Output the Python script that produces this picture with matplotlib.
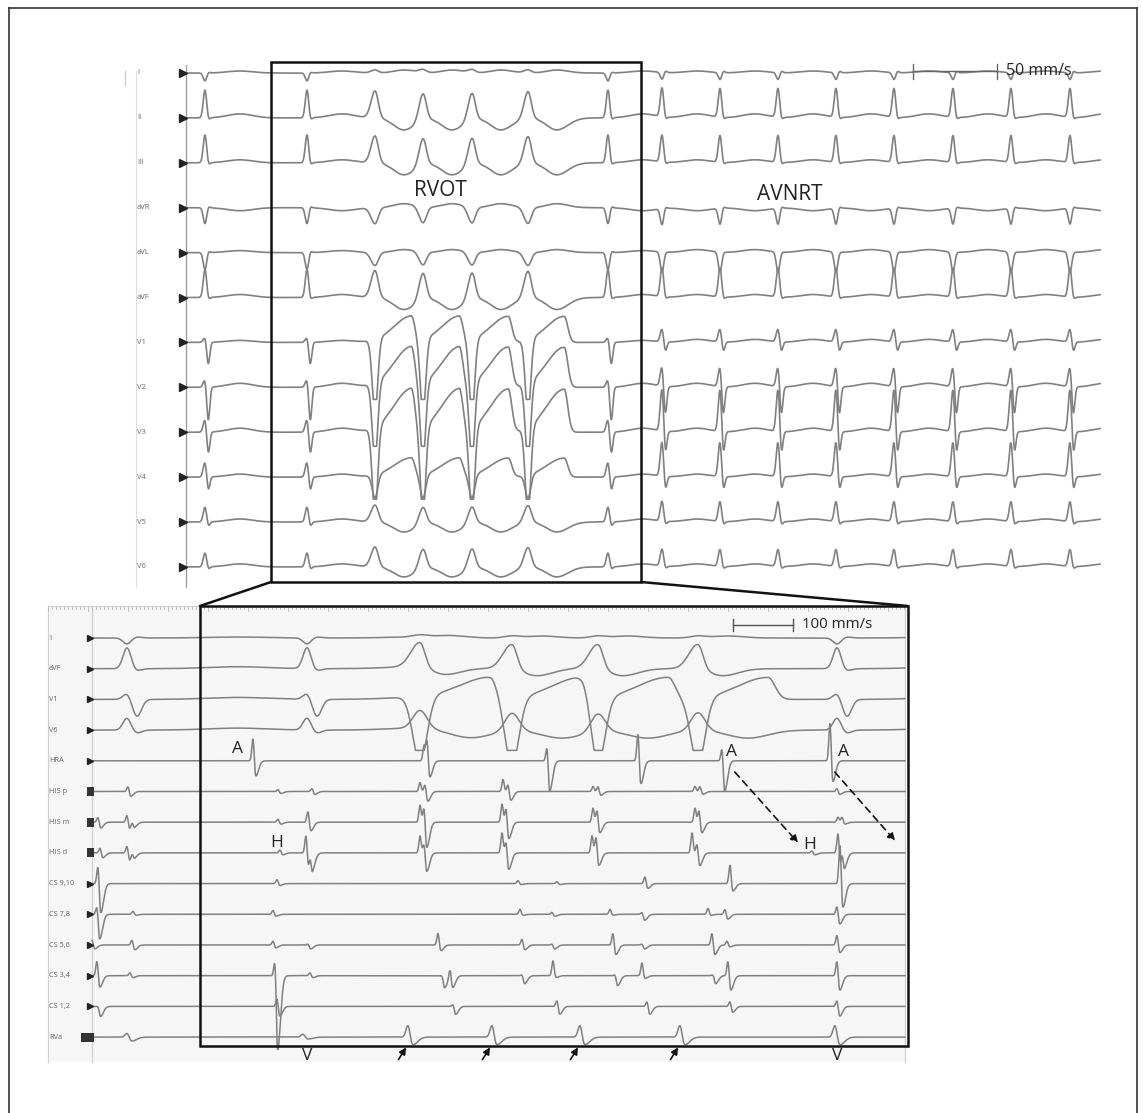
import numpy as np
import matplotlib.pyplot as plt
from matplotlib.patches import Rectangle, ConnectionPatch, FancyArrowPatch
from matplotlib.lines import Line2D

plt.rcParams['font.family'] = ['Open Sans', 'DejaVu Sans']

W, H = 1143, 1113

# ---------------- top panel: 12-lead ECG at 50 mm/s (times in ms) ----------------
top_leads = ['I', 'II', 'III', 'aVR', 'aVL', 'aVF', 'V1', 'V2', 'V3', 'V4', 'V5', 'V6']
top_beat_ms = [76, 484, 756, 948, 1144, 1368, 1688, 1904, 2136, 2368, 2600, 2832, 3068, 3300, 3536]
top_beat_kind = ['N', 'N', 'W', 'W', 'W', 'W', 'N', 'S', 'S', 'S', 'S', 'S', 'S', 'S', 'S']

# narrow beats: (r, s, t) ; N = sinus, S = AVNRT
top_narrow_N = {'I': (-8, 1, 2), 'II': (28, -3, 4), 'III': (28, -3, 3), 'aVR': (-16, 2, -3),
                'aVL': (-17, 2, 2), 'aVF': (28, -3, 3), 'V1': (5, -22, 2), 'V2': (8, -34, 4),
                'V3': (13, -22, 4), 'V4': (15, -14, 3), 'V5': (15, -5, 3), 'V6': (14, -3, 3)}
top_narrow_S = {'I': (-7, 2, 2), 'II': (29, -3, 4), 'III': (27, -3, 3), 'aVR': (-16, 2, -3),
                'aVL': (-20, 0, 3), 'aVF': (29, -3, 3), 'V1': (13, -10, 3), 'V2': (20, -29, 4),
                'V3': (43, -24, 4), 'V4': (35, -15, 3), 'V5': (20, -4, 3), 'V6': (17, -3, 3)}
# wide RVOT beats: (main deflection, late wave)
top_wide = {'I': (3, 3), 'II': (27, -12), 'III': (27, -12), 'aVR': (-16, 4), 'aVL': (-13, 3),
            'aVF': (27, -12), 'V1': (-57, 26), 'V2': (-59, 40), 'V3': (-67, 43), 'V4': (-23, 19),
            'V5': (17, -10), 'V6': (20, -10)}
top_floor = {'V1': -57, 'V2': -59, 'V3': -67}

# ---------------- bottom panel: EP recording at 100 mm/s (times in ms) ----------------
bot_surface = ['I', 'aVF', 'V1', 'V6']
bot_beat_ms = [70, 430, 656, 840, 1012, 1212, 1490]
bot_beat_kind = ['N', 'N', 'W', 'W', 'W', 'W', 'N']
bot_narrow = {'I': (-6, 1, 1), 'aVF': (21, -2, 2), 'V1': (6, -17, 2), 'V6': (12, -3, 2)}
bot_wide = {'I': (2, 2), 'aVF': (25, -7), 'V1': (-51, 22), 'V6': (18, -8)}
bot_floor = {'V1': -51}

ic_channels = ['HRA', 'HIS p', 'HIS m', 'HIS d', 'CS 9,10', 'CS 7,8', 'CS 5,6', 'CS 3,4', 'CS 1,2', 'RVa']
# (time ms, upward amplitude, downward amplitude)
ic_events = {
    'HRA': [(322, 23, 16), (664, 15, 0), (670, 21, 17), (910, 14, 31), (1092, 28, 24),
            (1260, 13, 31), (1476, 39, 22)],
    'HIS p': [(72, 5, 5), (372, 2, 2), (440, 3, 3), (656, 9, 0), (666, 7, 10), (822, 12, 0),
              (832, 7, 9), (1002, 5, 0), (1012, 5, 4), (1206, 5, 0), (1216, 5, 3), (1490, 3, 3)],
    'HIS m': [(12, 5, 6), (70, 7, 7), (80, 4, 4), (372, 3, 2), (432, 11, 9), (656, 17, 0),
              (664, 15, 26), (820, 18, 0), (828, 14, 17), (1002, 14, 0), (1010, 12, 11),
              (1206, 14, 0), (1214, 12, 11), (1492, 5, 0), (1500, 5, 2)],
    'HIS d': [(16, 5, 5), (70, 7, 8), (80, 4, 4), (376, 3, 2), (428, 18, 17), (436, 9, 13),
              (656, 17, 0), (664, 9, 19), (820, 20, 0), (828, 11, 17), (1000, 17, 0),
              (1008, 16, 13), (1200, 20, 0), (1210, 9, 13), (1440, 2, 2), (1492, 20, 15),
              (1500, 11, 11)],
    'CS 9,10': [(12, 18, 30), (370, 4, 2), (852, 3, 1), (930, 2, 1), (1106, 7, 5), (1276, 19, 8),
                (1496, 40, 25)],
    'CS 7,8': [(10, 8, 25), (82, 3, 1), (362, 4, 2), (856, 5, 1), (920, 2, 2), (1036, 5, 1),
               (1100, 2, 6), (1232, 6, 1), (1266, 5, 5), (1490, 8, 10)],
    'CS 5,6': [(0, 5, 4), (80, 5, 5), (362, 4, 3), (432, 1, 4), (692, 12, 6), (860, 6, 5),
               (920, 1, 4), (1042, 12, 10), (1100, 1, 4), (1240, 12, 10), (1270, 4, 2),
               (1490, 10, 8)],
    'CS 3,4': [(10, 15, 12), (76, 3, 2), (366, 16, 75), (436, 3, 2), (700, 0, 12), (716, 8, 12),
               (860, 1, 8), (922, 15, 2), (1046, 1, 10), (1100, 13, 3), (1242, 1, 8),
               (1272, 15, 15), (1490, 15, 15)],
    'CS 1,2': [(12, 0, 10), (370, 8, 10), (722, 2, 8), (930, 6, 8), (1110, 5, 8), (1276, 5, 6),
               (1490, 6, 10)],
    'RVa': [(70, 4, 4), (422, 3, 2), (632, 12, 8), (800, 12, 8), (976, 12, 8), (1176, 12, 8),
            (1486, 12, 8)],
}
rva_arrow_ms = [632, 800, 976, 1176]


def bump(t, c, sl, sr=None):
    sr = sl if sr is None else sr
    s = np.where(t < c, sl, sr)
    return np.exp(-0.5 * ((t - c) / s) ** 2)


def ecg_trace(t, beats, kinds, narrow_n, narrow_s, wide, floor, shp):
    y = np.zeros_like(t)
    for bt, k in zip(beats, kinds):
        if k == 'W':
            m, late = wide
            if floor is not None:
                m = m * 1.3
            y += m * bump(t, bt, shp['wm'][0], shp['wm'][1])
            y += late * bump(t, bt + shp['wl'][0], shp['wl'][1], shp['wl'][2])
        else:
            r, s, tw = narrow_n if k == 'N' else narrow_s
            y += r * bump(t, bt, shp['r'])
            y += s * bump(t, bt + shp['s'][0], shp['s'][1])
            y += tw * bump(t, bt + shp['t'][0], shp['t'][1])
    if floor is not None:
        y = np.maximum(y, floor)
    return y


fig = plt.figure(figsize=(W / 100, H / 100), dpi=100)
ax_top = fig.add_axes([0, 1 - 596 / H, 1, 596 / H])
ax_bot = fig.add_axes([0, 0, 1, (H - 596) / H])
for a in (ax_top, ax_bot):
    a.set_axis_off()
    a.patch.set_alpha(0)
ax_top.set_xlim(-744, 3828)
ax_top.set_ylim(-523, 73)
ax_bot.set_xlim(-184, 2102)
ax_bot.set_ylim(-475, 42)

TRACE = '#808080'
LABEL = '#666666'
TOP_GAP, BOT_GAP = 44.9, 30.7

# ---- top panel ----
t_top = np.arange(0, 3657, 1.0)
chest = {'V1', 'V2', 'V3', 'V4'}
for i, lead in enumerate(top_leads):
    shp = {'r': 7, 's': (13, 6), 't': (140, 50)}
    if lead in chest:
        shp['wm'] = (11, 11)
        shp['wl'] = (145, 70, 14)
    else:
        shp['wm'] = (16, 13)
        shp['wl'] = (115, 40, 45)
    y = ecg_trace(t_top, top_beat_ms, top_beat_kind, top_narrow_N[lead], top_narrow_S[lead],
                  top_wide[lead], top_floor.get(lead), shp)
    base = -i * TOP_GAP
    ax_top.plot(t_top, base + y, color=TRACE, lw=1.2, zorder=2)
    ax_top.plot([-12], [base], marker='>', ms=5.5, color='#222', zorder=3)
    ax_top.text(-196, base, lead, fontsize=5.5, color=LABEL, va='center', ha='left')

ax_top.plot([0, 0], [8, -514], color='#999999', lw=0.9)
ax_top.plot([-200, -200], [2, -514], color='#dddddd', lw=0.8)
ax_top.plot([-244, -244], [2, -12], color='#cccccc', lw=1.0)

ax_top.text(1016, -118, 'RVOT', fontsize=15, color='#222', ha='center', va='center')
ax_top.text(2416, -121, 'AVNRT', fontsize=15, color='#222', ha='center', va='center')
ax_top.plot([2908, 3244], [2, 2], color='#666', lw=1.0)
for xx in (2908, 3244):
    ax_top.plot([xx, xx], [-6, 9], color='#666', lw=1.0)
ax_top.text(3280, 2, '50 mm/s', fontsize=11.5, color='#222', ha='left', va='center')

ax_top.add_patch(Rectangle((340, -509), 1480, 520, fill=False, ec='#111', lw=1.8, zorder=4))

# ---- bottom panel ----
ax_bot.add_patch(Rectangle((-88, -424), 1714, 456, fc='#f6f6f6', ec='none', zorder=0))
for xx in (-88, 0, 1626):
    ax_bot.plot([xx, xx], [32, -424], color='#d0d0d0', lw=0.9, zorder=1)
ticks = np.arange(-88, 1627, 8)
for k, xx in enumerate(ticks):
    ln = 5 if k % 10 == 0 else 2.5
    ax_bot.plot([xx, xx], [32, 32 - ln], color='#b5b5b5', lw=0.6, zorder=1)
ax_bot.plot([-88, 1626], [32, 32], color='#c8c8c8', lw=0.6, zorder=1)

t_bot = np.arange(0, 1626.5, 0.5)
bot_shapes = {
    'I': (15, 15, 60, 30, 30),
    'aVF': (18, 10, 50, 25, 30),
    'V1': (14, 14, 140, 60, 14),
    'V6': (14, 14, 100, 40, 40),
}
for i, lead in enumerate(bot_surface):
    s = bot_shapes[lead]
    shp = {'r': 8, 's': (20, 9), 't': (220, 60), 'wm': (s[0], s[1]), 'wl': (s[2], s[3], s[4])}
    y = ecg_trace(t_bot, bot_beat_ms, bot_beat_kind, bot_narrow[lead], bot_narrow[lead],
                  bot_wide[lead], bot_floor.get(lead), shp)
    base = -i * BOT_GAP
    ax_bot.plot(t_bot, base + y, color=TRACE, lw=1.1, zorder=2)
    ax_bot.plot([-4], [base], marker='>', ms=5, color='#222', zorder=3)
    ax_bot.text(-86, base, lead, fontsize=5.3, color=LABEL, va='center', ha='left')

for j, ch in enumerate(ic_channels):
    row = len(bot_surface) + j
    base = -row * BOT_GAP
    sig = 4.0 if ch == 'RVa' else 2.3
    y = np.zeros_like(t_bot)
    for (c, up, dn) in ic_events[ch]:
        y += up * bump(t_bot, c, sig)
        y -= dn * bump(t_bot, c + 2.2 * sig, sig, 2.5 * sig)
    ax_bot.plot(t_bot, base + y, color=TRACE, lw=1.1, zorder=2)
    ax_bot.text(-86, base, ch, fontsize=5.3, color=LABEL, va='center', ha='left')
    if ch.startswith('HIS'):
        ax_bot.add_patch(Rectangle((-10, base - 4.5), 14, 9, fc='#333', ec='none', zorder=3))
    elif ch == 'RVa':
        ax_bot.add_patch(Rectangle((-22, base - 4.5), 26, 9, fc='#333', ec='none', zorder=3))
    else:
        ax_bot.plot([-4], [base], marker='>', ms=5, color='#222', zorder=3)

# scale bar and labels
ax_bot.plot([1282, 1402], [13, 13], color='#555', lw=1.0)
for xx in (1282, 1402):
    ax_bot.plot([xx, xx], [7, 19], color='#555', lw=1.0)
ax_bot.text(1420, 13, '100 mm/s', fontsize=10.8, color='#222', ha='left', va='center')

for (tx, ty, s) in [(290, -111, 'A'), (1280, -114, 'A'), (1502, -114, 'A'),
                    (370, -205, 'H'), (1436, -207, 'H'), (430, -418, 'V'), (1490, -418, 'V')]:
    ax_bot.text(tx, ty, s, fontsize=12.5, color='#222', ha='center', va='center', zorder=5)

for (x0, y0, x1, y1) in [(1282, -132, 1416, -207), (1482, -132, 1610, -205)]:
    ax_bot.add_patch(FancyArrowPatch((x0, y0), (x1, y1), arrowstyle='-|>', mutation_scale=11,
                                     linestyle=(0, (4, 3)), color='#111', lw=1.2, zorder=5))
for tm in rva_arrow_ms:
    ax_bot.add_patch(FancyArrowPatch((tm - 22, -424), (tm - 1, -407), arrowstyle='-|>',
                                     mutation_scale=10, color='#111', lw=1.2, zorder=5))

ax_bot.add_patch(Rectangle((216, -408), 1416, 440, fill=False, ec='#111', lw=1.8, zorder=4))

# zoom connectors
for (xa, xb) in [(340, 216), (1820, 1632)]:
    cp = ConnectionPatch(xyA=(xa, -509), coordsA=ax_top.transData, xyB=(xb, 32),
                         coordsB=ax_bot.transData, color='#111', lw=1.8, zorder=4)
    fig.add_artist(cp)

# outer frame (open at the bottom)
for (xs, ys) in [([9, 9], [0, 1105]), ([9, 1137], [1105, 1105]), ([1137, 1137], [1105, 0])]:
    fig.add_artist(Line2D([v / W for v in xs], [v / H for v in ys], color='#333', lw=1.2))

fig.savefig('out.png', dpi=100)
